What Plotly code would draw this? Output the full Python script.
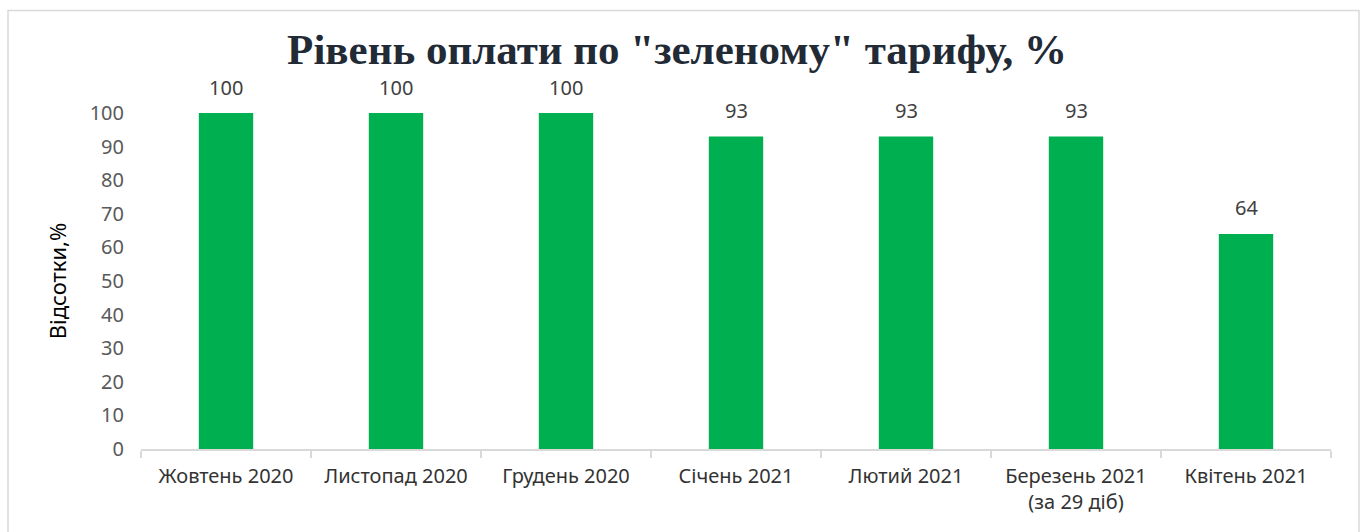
import plotly.graph_objects as go

categories = ["Жовтень 2020", "Листопад 2020", "Грудень 2020", "Січень 2021",
              "Лютий 2021", "Березень 2021<br>(за 29 діб)", "Квітень 2021"]
values = [100, 100, 100, 93, 93, 93, 64]
y_ticks = [0, 10, 20, 30, 40, 50, 60, 70, 80, 90, 100]

W, H = 1362, 532
L, R, T, B = 141, 31, 113, 83

fig = go.Figure()
fig.add_trace(go.Bar(
    x=categories, y=values,
    marker=dict(color="#00B050", line=dict(width=0)),
    width=0.32,
    hoverinfo="skip",
))

for c, v in zip(categories, values):
    fig.add_annotation(
        x=c, y=v, xref="x", yref="y", text=str(v), showarrow=False,
        yanchor="middle", yshift=26,
        font=dict(family="Noto Sans", size=20, color="#404040"),
    )

pw = W - L - R
ph = H - T - B
def px_x(p):
    return (p - L) / pw
def px_y(p):
    return (H - B - p) / ph

fig.update_layout(
    width=W, height=H,
    margin=dict(l=L, r=R, t=T, b=B),
    paper_bgcolor="white", plot_bgcolor="white",
    showlegend=False,
    title=dict(
        text="<b>Рівень оплати по \"зеленому\" тарифу, %</b>",
        font=dict(family="Liberation Serif", size=43, color="#222A35"),
        x=677 / W, xanchor="center", xref="container",
        y=1 - 49 / H, yanchor="middle", yref="container",
    ),
    xaxis=dict(
        type="category",
        showline=True, linecolor="#D9D9D9", linewidth=1.5,
        ticks="outside", tickson="boundaries", ticklen=7, tickcolor="#D9D9D9", tickwidth=1.5,
        tickfont=dict(family="Noto Sans", size=20, color="#333333"),
        ticklabelstandoff=8,
        showgrid=False,
    ),
    yaxis=dict(
        range=[0, 100], tickvals=y_ticks,
        showgrid=False, zeroline=False, showline=False,
        tickfont=dict(family="Noto Sans", size=20, color="#595959"),
        ticklabelstandoff=16,
        title=dict(text="Відсотки,%", font=dict(family="Noto Sans", size=22, color="#000000"), standoff=16),
    ),
    shapes=[dict(
        type="rect", xref="paper", yref="paper",
        x0=px_x(8), x1=px_x(1359), y0=px_y(545), y1=px_y(10.5),
        line=dict(color="#D9D9D9", width=1.5), fillcolor="rgba(0,0,0,0)", layer="below",
    )],
)

fig.write_html("out.html", config={"displayModeBar": False},
               post_script="document.body.style.margin='0';document.body.style.overflow='hidden';")
